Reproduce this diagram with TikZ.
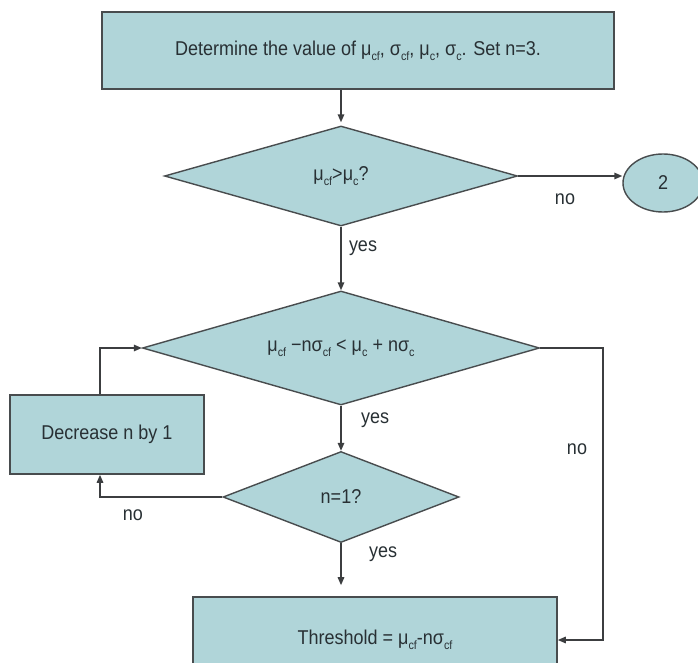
\documentclass[tikz,border=0pt]{standalone}
\usepackage{fontspec}
\setmainfont{Liberation Sans}[FakeStretch=0.9]
\usetikzlibrary{shapes.geometric,arrows.meta}

\definecolor{boxfill}{RGB}{176,213,217}
\definecolor{boxline}{RGB}{72,76,78}
\definecolor{wire}{RGB}{60,62,64}
\definecolor{ink}{RGB}{40,48,52}

% small lowered index text (cf, c) in the body font
\newcommand\sbs[1]{\raisebox{-0.45ex}{\fontsize{12}{12}\selectfont #1}}

\begin{document}
\begin{tikzpicture}[x=1pt,y=-1pt,
  font=\fontsize{20}{23}\selectfont, text=ink,
  procbox/.style={draw=boxline, line width=1.6pt, fill=boxfill, inner sep=0pt},
  decision/.style={diamond, draw=boxline, line width=1.4pt, fill=boxfill, inner sep=0pt},
  terminal/.style={ellipse, draw=boxline, line width=1.4pt, fill=boxfill, inner sep=0pt},
  flow/.style={draw=wire, line width=1.5pt, -{Triangle[length=8pt,width=6.5pt]}},
  tag/.style={text=ink, inner sep=0pt}]
\useasboundingbox (0,0) rectangle (698,663);
\fill[white] (0,0) rectangle (698,663);

% process boxes
\node[procbox, minimum width=512pt, minimum height=77pt] (start) at (358,50.5)
  {Determine the value of μ\sbs{cf}, σ\sbs{cf}, μ\sbs{c}, σ\sbs{c}. Set n=3.};
\node[procbox, minimum width=194pt, minimum height=79pt] (dec) at (107,434.5)
  {Decrease n by 1};
\node[procbox, minimum width=364pt, minimum height=86pt] (thr) at (375,640)
  {Threshold = μ\sbs{cf}-nσ\sbs{cf}};

% decisions
\node[decision, minimum width=353pt, minimum height=100pt, shape aspect=3.53] (d1) at (341,176)
  {μ\sbs{cf}>μ\sbs{c}?};
\node[decision, minimum width=397pt, minimum height=114pt, shape aspect=3.48] (d2) at (341,348)
  {μ\sbs{cf} −nσ\sbs{cf} < μ\sbs{c} + nσ\sbs{c}};
\node[decision, minimum width=236pt, minimum height=91pt, shape aspect=2.6] (d3) at (341,497)
  {n=1?};

% connector
\node[terminal, minimum width=80pt, minimum height=58pt] (two) at (663,183) {2};

% routing columns
\coordinate (loopx) at (100,0);
\coordinate (rx) at (603,0);

% flow lines
\draw[flow, shorten >=3pt] (start.south -| d1.north) -- (d1.north);
\draw[flow] (d1.east) -- (d1.east -| two.west);
\draw[flow] (d1.south) -- (d2.north);
\draw[flow] (d2.south) -- (d3.north);
\draw[flow, shorten >=11pt] (d3.south) -- (d3.south |- thr.north);
\draw[flow] (d3.west) -| (dec.south -| loopx);
\draw[flow] (dec.north -| loopx) |- (d2.west);
\draw[flow] (d2.east) -| (rx |- thr.east) -- (thr.east);

% branch labels
\node[tag] (noA) at (565,199) {no};
\node[tag] (yesA) at (363,248) {yes};
\node[tag] (yesB) at (375,420) {yes};
\node[tag] (noB) at (577,449) {no};
\node[tag] (noC) at (133,515) {no};
\node[tag] (yesC) at (383,554) {yes};
\end{tikzpicture}
\end{document}
